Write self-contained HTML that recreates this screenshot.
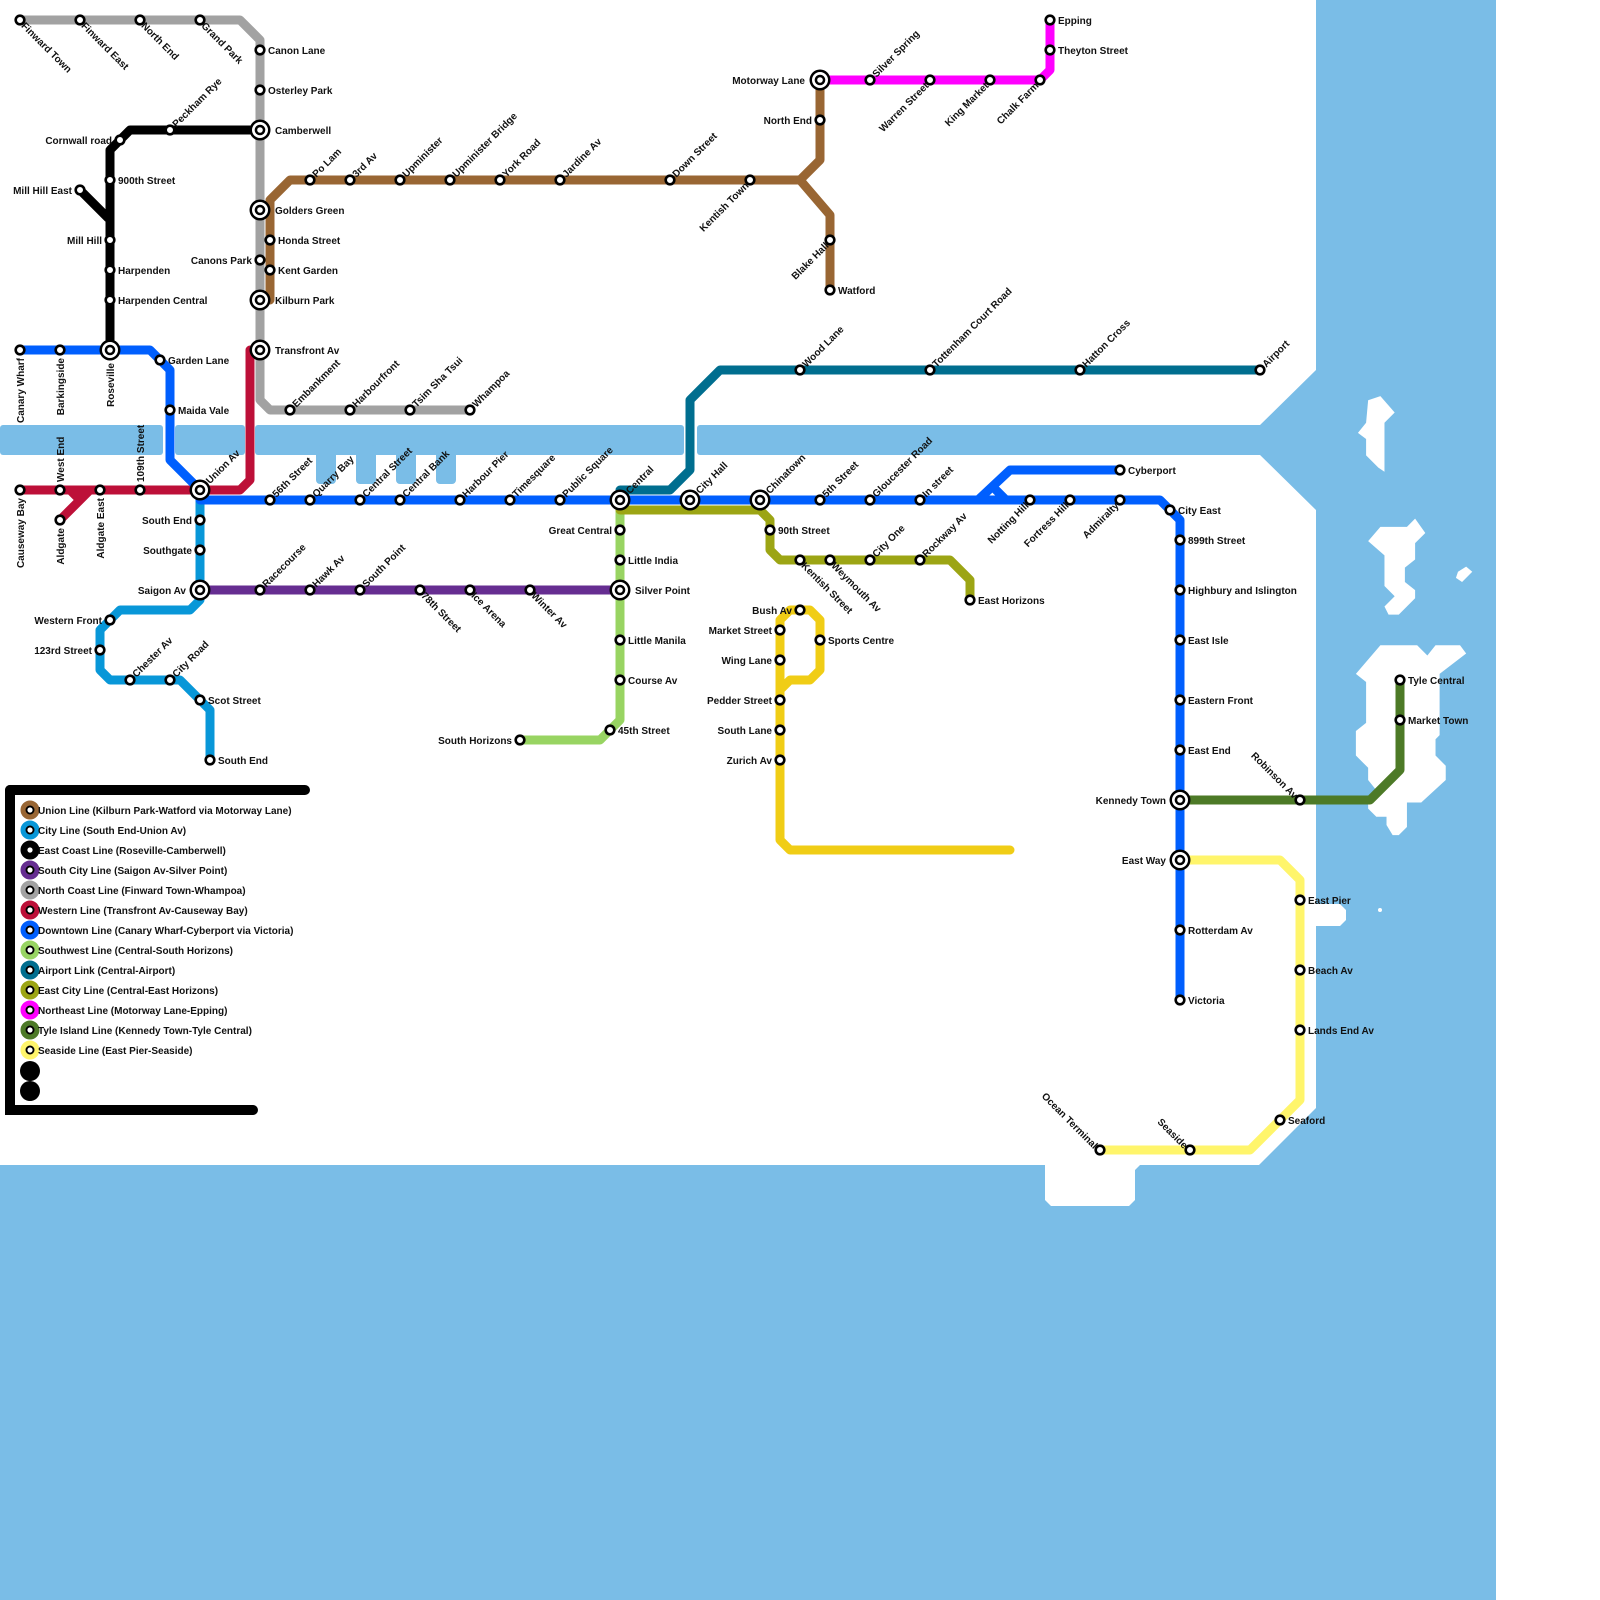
<!DOCTYPE html>
<html><head><meta charset="utf-8"><style>
html,body{margin:0;padding:0;background:#fff}
svg{display:block}
text{font-family:"Liberation Sans",Arial,sans-serif;font-size:10px;font-weight:bold;fill:#111}
.e{text-anchor:end}
</style></head><body>
<svg width="1600" height="1600" viewBox="0 0 1600 1600" xmlns="http://www.w3.org/2000/svg">
<defs>
<g id="s"><circle r="4.3" fill="#fff" stroke="#000" stroke-width="2.6"/></g>
<g id="i"><circle r="10.5" fill="#000"/><circle r="8" fill="#fff"/><circle r="5.3" fill="#000"/><circle r="2.8" fill="#fff"/></g>
</defs>
<g fill="#7abde7">
<path d="M1316,0 H1496 V1600 H0 V1165 H1045 V1200 L1051,1206 H1129 L1135,1200 V1170 L1140,1165 H1259 L1316,1108 V926 H1340 L1346,920 V910 L1340,904 H1316 V510 L1259,454 V426 L1316,370 Z"/>
<rect x="0" y="425" width="163" height="30" rx="3"/>
<rect x="175" y="425" width="70" height="30" rx="3"/>
<rect x="255" y="425" width="429" height="30" rx="3"/>
<rect x="697" y="425" width="566" height="30" rx="3"/>
<rect x="316" y="445" width="20" height="39" rx="4"/>
<rect x="356" y="445" width="20" height="39" rx="4"/>
<rect x="396" y="445" width="20" height="39" rx="4"/>
<rect x="436" y="445" width="20" height="39" rx="4"/>
</g>
<g fill="#fff" transform="scale(1.021)">
<path d="M1340,392 L1352,388 L1366,404 L1356,414 L1356,462 L1350,458 L1338,446 L1338,430 L1330,424 L1338,414 Z"/>
<path d="M1352,516 L1378,516 L1386,508 L1396,522 L1386,532 L1386,548 L1376,556 L1376,570 L1386,578 L1386,586 L1370,602 L1360,602 L1356,594 L1366,584 L1356,574 L1356,544 L1340,530 Z"/>
<path d="M1428,560 L1436,555 L1442,560 L1432,570 L1426,566 Z"/>
<path d="M1352,632 L1388,632 L1398,642 L1406,632 L1430,632 L1436,640 L1410,660 L1410,720 L1406,724 L1406,740 L1416,750 L1416,764 L1392,786 L1378,786 L1378,810 L1370,818 L1364,818 L1358,808 L1358,800 L1348,800 L1340,792 L1340,780 L1348,774 L1340,764 L1340,752 L1328,740 L1328,716 L1338,708 L1338,668 L1328,660 Z"/>
</g>
<circle cx="1380" cy="910" r="2" fill="#fff"/>
<g fill="none" stroke-width="9" stroke-linejoin="round" stroke-linecap="round">
<path stroke="#a2a2a2" d="M20,20 H240 L260,40 V400 L270,410 H470"/>
<path stroke="#000" d="M260,130 H130 L110,150 V350 M80,190 L108,218"/>
<path stroke="#996633" d="M270,300 V200 L290,180 H800 L820,160 V80 M800,180 L830,215 V290"/>
<path stroke="#bd1038" d="M250,350 V480 L240,490 H20 M60,520 L90,490 M70,490 L80,500"/>
<path stroke="#0897d8" d="M200,490 V600 L190,610 H120 L100,630 V670 L110,680 H180 L210,710 V760"/>
<path stroke="#662d91" d="M200,590 H620"/>
<path stroke="#98d462" d="M620,500 V720 L600,740 H520"/>
<path stroke="#006e8f" d="M620,490 H670 L690,470 V400 L720,370 H1260"/>
<path stroke="#005ffe" d="M20,350 H150 L170,370 V460 L200,490 M200,500 H1160 L1180,520 V1000 M978,500 L1010,470 H1120 M996,490 L1006,500"/>
<path stroke="#9ca514" d="M620,510 H760 L770,520 V550 L780,560 H950 L970,580 V600"/>
<path stroke="#f0cd16" d="M780,620 V840 L790,850 H1010 M780,620 L790,610 H810 L820,620 V670 L810,680 H790 L780,690"/>
<path stroke="#ff00ff" d="M820,80 H1040 L1050,70 V20"/>
<path stroke="#4d7a27" d="M1180,800 H1370 L1400,770 V680"/>
<path stroke="#fff56b" d="M1180,860 H1280 L1300,880 V1100 L1250,1150 H1100"/>
</g>
<g>
<use href="#s" x="20" y="20"/><use href="#s" x="80" y="20"/><use href="#s" x="140" y="20"/><use href="#s" x="200" y="20"/>
<use href="#s" x="260" y="50"/><use href="#s" x="260" y="90"/><use href="#s" x="260" y="260"/>
<use href="#s" x="290" y="410"/><use href="#s" x="350" y="410"/><use href="#s" x="410" y="410"/><use href="#s" x="470" y="410"/>
<use href="#s" x="120" y="140"/><use href="#s" x="170" y="130"/><use href="#s" x="110" y="180"/><use href="#s" x="80" y="190"/>
<use href="#s" x="110" y="240"/><use href="#s" x="110" y="270"/><use href="#s" x="110" y="300"/>
<use href="#s" x="270" y="240"/><use href="#s" x="270" y="270"/>
<use href="#s" x="310" y="180"/><use href="#s" x="350" y="180"/><use href="#s" x="400" y="180"/><use href="#s" x="450" y="180"/><use href="#s" x="500" y="180"/><use href="#s" x="560" y="180"/><use href="#s" x="670" y="180"/><use href="#s" x="750" y="180"/>
<use href="#s" x="820" y="120"/><use href="#s" x="830" y="240"/><use href="#s" x="830" y="290"/>
<use href="#s" x="870" y="80"/><use href="#s" x="930" y="80"/><use href="#s" x="990" y="80"/><use href="#s" x="1040" y="80"/><use href="#s" x="1050" y="50"/><use href="#s" x="1050" y="20"/>
<use href="#s" x="800" y="370"/><use href="#s" x="930" y="370"/><use href="#s" x="1080" y="370"/><use href="#s" x="1260" y="370"/>
<use href="#s" x="20" y="350"/><use href="#s" x="60" y="350"/><use href="#s" x="160" y="360"/><use href="#s" x="170" y="410"/>
<use href="#s" x="270" y="500"/><use href="#s" x="310" y="500"/><use href="#s" x="360" y="500"/><use href="#s" x="400" y="500"/><use href="#s" x="460" y="500"/><use href="#s" x="510" y="500"/><use href="#s" x="560" y="500"/>
<use href="#s" x="820" y="500"/><use href="#s" x="870" y="500"/><use href="#s" x="920" y="500"/><use href="#s" x="1030" y="500"/><use href="#s" x="1070" y="500"/><use href="#s" x="1120" y="500"/><use href="#s" x="1120" y="470"/><use href="#s" x="1170" y="510"/>
<use href="#s" x="1180" y="540"/><use href="#s" x="1180" y="590"/><use href="#s" x="1180" y="640"/><use href="#s" x="1180" y="700"/><use href="#s" x="1180" y="750"/><use href="#s" x="1180" y="930"/><use href="#s" x="1180" y="1000"/>
<use href="#s" x="20" y="490"/><use href="#s" x="60" y="490"/><use href="#s" x="60" y="520"/><use href="#s" x="100" y="490"/><use href="#s" x="140" y="490"/>
<use href="#s" x="200" y="520"/><use href="#s" x="200" y="550"/><use href="#s" x="110" y="620"/><use href="#s" x="100" y="650"/><use href="#s" x="130" y="680"/><use href="#s" x="170" y="680"/><use href="#s" x="200" y="700"/><use href="#s" x="210" y="760"/>
<use href="#s" x="260" y="590"/><use href="#s" x="310" y="590"/><use href="#s" x="360" y="590"/><use href="#s" x="420" y="590"/><use href="#s" x="470" y="590"/><use href="#s" x="530" y="590"/>
<use href="#s" x="620" y="530"/><use href="#s" x="620" y="560"/><use href="#s" x="620" y="640"/><use href="#s" x="620" y="680"/><use href="#s" x="610" y="730"/><use href="#s" x="520" y="740"/>
<use href="#s" x="770" y="530"/><use href="#s" x="800" y="560"/><use href="#s" x="830" y="560"/><use href="#s" x="870" y="560"/><use href="#s" x="920" y="560"/><use href="#s" x="970" y="600"/>
<use href="#s" x="800" y="610"/><use href="#s" x="780" y="630"/><use href="#s" x="780" y="660"/><use href="#s" x="780" y="700"/><use href="#s" x="780" y="730"/><use href="#s" x="780" y="760"/><use href="#s" x="820" y="640"/>
<use href="#s" x="1300" y="800"/><use href="#s" x="1400" y="720"/><use href="#s" x="1400" y="680"/>
<use href="#s" x="1300" y="900"/><use href="#s" x="1300" y="970"/><use href="#s" x="1300" y="1030"/><use href="#s" x="1280" y="1120"/><use href="#s" x="1190" y="1150"/><use href="#s" x="1100" y="1150"/>
<use href="#i" x="260" y="130"/><use href="#i" x="260" y="210"/><use href="#i" x="260" y="300"/><use href="#i" x="260" y="350"/><use href="#i" x="110" y="350"/>
<use href="#i" x="200" y="490"/><use href="#i" x="200" y="590"/><use href="#i" x="620" y="500"/><use href="#i" x="690" y="500"/><use href="#i" x="760" y="500"/><use href="#i" x="620" y="590"/>
<use href="#i" x="820" y="80"/><use href="#i" x="1180" y="800"/><use href="#i" x="1180" y="860"/>
</g>
<g>
<text x="268" y="54">Canon Lane</text><text x="268" y="94">Osterley Park</text>
<text x="275" y="134">Camberwell</text><text x="275" y="214">Golders Green</text><text x="275" y="304">Kilburn Park</text><text x="275" y="354">Transfront Av</text>
<text x="278" y="244">Honda Street</text><text x="278" y="274">Kent Garden</text>
<text x="118" y="184">900th Street</text><text x="118" y="274">Harpenden</text><text x="118" y="304">Harpenden Central</text>
<text x="838" y="294">Watford</text><text x="1058" y="24">Epping</text><text x="1058" y="54">Theyton Street</text>
<text x="168" y="364">Garden Lane</text><text x="178" y="414">Maida Vale</text>
<text x="1128" y="474">Cyberport</text><text x="1178" y="514">City East</text>
<text x="1188" y="544">899th Street</text><text x="1188" y="594">Highbury and Islington</text><text x="1188" y="644">East Isle</text><text x="1188" y="704">Eastern Front</text><text x="1188" y="754">East End</text><text x="1188" y="934">Rotterdam Av</text><text x="1188" y="1004">Victoria</text>
<text x="208" y="704">Scot Street</text><text x="218" y="764">South End</text>
<text x="635" y="594">Silver Point</text>
<text x="628" y="564">Little India</text><text x="628" y="644">Little Manila</text><text x="628" y="684">Course Av</text><text x="618" y="734">45th Street</text>
<text x="778" y="534">90th Street</text><text x="978" y="604">East Horizons</text><text x="828" y="644">Sports Centre</text>
<text x="1408" y="724">Market Town</text><text x="1408" y="684">Tyle Central</text>
<text x="1308" y="904">East Pier</text><text x="1308" y="974">Beach Av</text><text x="1308" y="1034">Lands End Av</text><text x="1288" y="1124">Seaford</text>
</g>
<g>
<text class="e" x="112" y="144">Cornwall road</text><text class="e" x="72" y="194">Mill Hill East</text><text class="e" x="102" y="244">Mill Hill</text>
<text class="e" x="252" y="264">Canons Park</text>
<text class="e" x="812" y="124">North End</text><text class="e" x="805" y="84">Motorway Lane</text>
<text class="e" x="192" y="524">South End</text><text class="e" x="192" y="554">Southgate</text><text class="e" x="186" y="594">Saigon Av</text>
<text class="e" x="102" y="624">Western Front</text><text class="e" x="92" y="654">123rd Street</text>
<text class="e" x="612" y="534">Great Central</text><text class="e" x="512" y="744">South Horizons</text>
<text class="e" x="792" y="614">Bush Av</text><text class="e" x="772" y="634">Market Street</text><text class="e" x="772" y="664">Wing Lane</text><text class="e" x="772" y="704">Pedder Street</text><text class="e" x="772" y="734">South Lane</text><text class="e" x="772" y="764">Zurich Av</text>
<text class="e" x="1166" y="804">Kennedy Town</text><text class="e" x="1166" y="864">East Way</text>
</g>
<g>
<text transform="translate(290,410) rotate(-45)" x="6" y="3">Embankment</text>
<text transform="translate(350,410) rotate(-45)" x="6" y="3">Harbourfront</text>
<text transform="translate(410,410) rotate(-45)" x="6" y="3">Tsim Sha Tsui</text>
<text transform="translate(470,410) rotate(-45)" x="6" y="3">Whampoa</text>
<text transform="translate(170,130) rotate(-45)" x="6" y="3">Peckham Rye</text>
<text transform="translate(310,180) rotate(-45)" x="6" y="3">Po Lam</text>
<text transform="translate(350,180) rotate(-45)" x="6" y="3">3rd Av</text>
<text transform="translate(400,180) rotate(-45)" x="6" y="3">Upminister</text>
<text transform="translate(450,180) rotate(-45)" x="6" y="3">Upminister Bridge</text>
<text transform="translate(500,180) rotate(-45)" x="6" y="3">York Road</text>
<text transform="translate(560,180) rotate(-45)" x="6" y="3">Jardine Av</text>
<text transform="translate(670,180) rotate(-45)" x="6" y="3">Down Street</text>
<text transform="translate(870,80) rotate(-45)" x="6" y="3">Silver Spring</text>
<text transform="translate(800,370) rotate(-45)" x="6" y="3">Wood Lane</text>
<text transform="translate(930,370) rotate(-45)" x="6" y="3">Tottenham Court Road</text>
<text transform="translate(1080,370) rotate(-45)" x="6" y="3">Hatton Cross</text>
<text transform="translate(1260,370) rotate(-45)" x="6" y="3">Airport</text>
<text transform="translate(200,490) rotate(-45)" x="11" y="3">Union Av</text>
<text transform="translate(270,500) rotate(-45)" x="6" y="3">56th Street</text>
<text transform="translate(310,500) rotate(-45)" x="6" y="3">Quarry Bay</text>
<text transform="translate(360,500) rotate(-45)" x="6" y="3">Central Street</text>
<text transform="translate(400,500) rotate(-45)" x="6" y="3">Central Bank</text>
<text transform="translate(460,500) rotate(-45)" x="6" y="3">Harbour Pier</text>
<text transform="translate(510,500) rotate(-45)" x="6" y="3">Timesquare</text>
<text transform="translate(560,500) rotate(-45)" x="6" y="3">Public Square</text>
<text transform="translate(620,500) rotate(-45)" x="11" y="3">Central</text>
<text transform="translate(690,500) rotate(-45)" x="11" y="3">City Hall</text>
<text transform="translate(760,500) rotate(-45)" x="11" y="3">Chinatown</text>
<text transform="translate(820,500) rotate(-45)" x="6" y="3">5th Street</text>
<text transform="translate(870,500) rotate(-45)" x="6" y="3">Gloucester Road</text>
<text transform="translate(920,500) rotate(-45)" x="6" y="3">In street</text>
<text transform="translate(130,680) rotate(-45)" x="6" y="3">Chester Av</text>
<text transform="translate(170,680) rotate(-45)" x="6" y="3">City Road</text>
<text transform="translate(260,590) rotate(-45)" x="6" y="3">Racecourse</text>
<text transform="translate(310,590) rotate(-45)" x="6" y="3">Hawk Av</text>
<text transform="translate(360,590) rotate(-45)" x="6" y="3">South Point</text>
<text transform="translate(870,560) rotate(-45)" x="6" y="3">City One</text>
<text transform="translate(920,560) rotate(-45)" x="6" y="3">Rockway Av</text>
</g>
<g>
<text transform="translate(20,20) rotate(45)" x="5" y="4">Finward Town</text>
<text transform="translate(80,20) rotate(45)" x="5" y="4">Finward East</text>
<text transform="translate(140,20) rotate(45)" x="5" y="4">North End</text>
<text transform="translate(200,20) rotate(45)" x="5" y="4">Grand Park</text>
<text transform="translate(420,590) rotate(45)" x="5" y="4">78th Street</text>
<text transform="translate(470,590) rotate(45)" x="5" y="4">Ice Arena</text>
<text transform="translate(530,590) rotate(45)" x="5" y="4">Winter Av</text>
<text transform="translate(800,560) rotate(45)" x="5" y="4">Kentish Street</text>
<text transform="translate(830,560) rotate(45)" x="5" y="4">Weymouth Av</text>
</g>
<g>
<text class="e" transform="translate(750,180) rotate(-45)" x="-5" y="4">Kentish Town</text>
<text class="e" transform="translate(830,240) rotate(-45)" x="-5" y="4">Blake Hall</text>
<text class="e" transform="translate(930,80) rotate(-45)" x="-5" y="4">Warren Street</text>
<text class="e" transform="translate(990,80) rotate(-45)" x="-5" y="4">King Market</text>
<text class="e" transform="translate(1040,80) rotate(-45)" x="-5" y="4">Chalk Farm</text>
<text class="e" transform="translate(1030,500) rotate(-45)" x="-5" y="4">Notting Hill</text>
<text class="e" transform="translate(1070,500) rotate(-45)" x="-5" y="4">Fortress Hill</text>
<text class="e" transform="translate(1120,500) rotate(-45)" x="-5" y="4">Admiralty</text>
</g>
<g>
<text class="e" transform="translate(1300,800) rotate(45)" x="-5" y="4">Robinson Av</text>
<text class="e" transform="translate(1190,1150) rotate(45)" x="-5" y="4">Seaside</text>
<text class="e" transform="translate(1100,1150) rotate(45)" x="-5" y="4">Ocean Terminal</text>
</g>
<g>
<text class="e" transform="translate(20,350) rotate(-90)" x="-8" y="4">Canary Wharf</text>
<text class="e" transform="translate(60,350) rotate(-90)" x="-8" y="4">Barkingside</text>
<text class="e" transform="translate(110,350) rotate(-90)" x="-13" y="4">Roseville</text>
<text class="e" transform="translate(20,490) rotate(-90)" x="-8" y="4">Causeway Bay</text>
<text class="e" transform="translate(60,520) rotate(-90)" x="-8" y="4">Aldgate</text>
<text class="e" transform="translate(100,490) rotate(-90)" x="-8" y="4">Aldgate East</text>
<text transform="translate(60,490) rotate(-90)" x="8" y="4">West End</text>
<text transform="translate(140,490) rotate(-90)" x="8" y="4">109th Street</text>
</g>
<g>
<path d="M10,790 H305" stroke="#000" stroke-width="10" stroke-linecap="round"/>
<path d="M10,790 V1110 H253" stroke="#000" stroke-width="10" fill="none" stroke-linecap="round"/>
<g stroke-width="5">
<circle cx="30" cy="810" r="7" fill="#000" stroke="#996633"/>
<circle cx="30" cy="830" r="7" fill="#000" stroke="#0897d8"/>
<circle cx="30" cy="850" r="7" fill="#000" stroke="#000"/>
<circle cx="30" cy="870" r="7" fill="#000" stroke="#662d91"/>
<circle cx="30" cy="890" r="7" fill="#000" stroke="#a2a2a2"/>
<circle cx="30" cy="910" r="7" fill="#000" stroke="#bd1038"/>
<circle cx="30" cy="930" r="7" fill="#000" stroke="#005ffe"/>
<circle cx="30" cy="950" r="7" fill="#000" stroke="#98d462"/>
<circle cx="30" cy="970" r="7" fill="#000" stroke="#006e8f"/>
<circle cx="30" cy="990" r="7" fill="#000" stroke="#9ca514"/>
<circle cx="30" cy="1010" r="7" fill="#000" stroke="#ff00ff"/>
<circle cx="30" cy="1030" r="7" fill="#000" stroke="#4d7a27"/>
<circle cx="30" cy="1050" r="7" fill="#000" stroke="#fff56b"/>
</g>
<g fill="#fff">
<circle cx="30" cy="810" r="2.6"/><circle cx="30" cy="830" r="2.6"/><circle cx="30" cy="850" r="2.6"/><circle cx="30" cy="870" r="2.6"/><circle cx="30" cy="890" r="2.6"/><circle cx="30" cy="910" r="2.6"/><circle cx="30" cy="930" r="2.6"/><circle cx="30" cy="950" r="2.6"/><circle cx="30" cy="970" r="2.6"/><circle cx="30" cy="990" r="2.6"/><circle cx="30" cy="1010" r="2.6"/><circle cx="30" cy="1030" r="2.6"/><circle cx="30" cy="1050" r="2.6"/>
</g>
<circle cx="30" cy="1071" r="10" fill="#000"/><circle cx="30" cy="1091" r="10" fill="#000"/>
<g style="font-size:9.5px">
<text x="38" y="814">Union Line (Kilburn Park-Watford via Motorway Lane)</text>
<text x="38" y="834">City Line (South End-Union Av)</text>
<text x="38" y="854">East Coast Line (Roseville-Camberwell)</text>
<text x="38" y="874">South City Line (Saigon Av-Silver Point)</text>
<text x="38" y="894">North Coast Line (Finward Town-Whampoa)</text>
<text x="38" y="914">Western Line (Transfront Av-Causeway Bay)</text>
<text x="38" y="934">Downtown Line (Canary Wharf-Cyberport via Victoria)</text>
<text x="38" y="954">Southwest Line (Central-South Horizons)</text>
<text x="38" y="974">Airport Link (Central-Airport)</text>
<text x="38" y="994">East City Line (Central-East Horizons)</text>
<text x="38" y="1014">Northeast Line (Motorway Lane-Epping)</text>
<text x="38" y="1034">Tyle Island Line (Kennedy Town-Tyle Central)</text>
<text x="38" y="1054">Seaside Line (East Pier-Seaside)</text>
</g>
</g>
</svg>
</body></html>
